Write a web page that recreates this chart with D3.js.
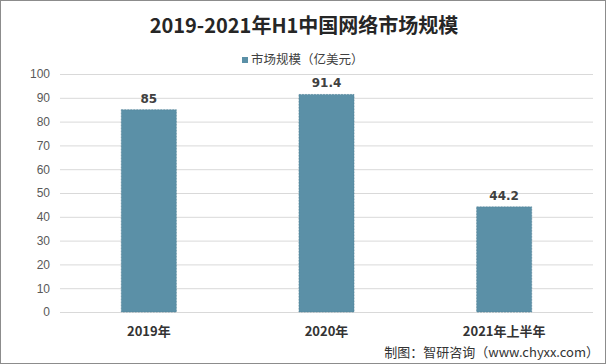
<!DOCTYPE html>
<html>
<head>
<meta charset="utf-8">
<script src="https://cdn.jsdelivr.net/npm/d3@7"></script>
<style>
  body { margin: 0; background: #fff; }
  svg { display: block; font-family: "Noto Sans CJK SC", "Noto Sans", sans-serif; }
</style>
</head>
<body>
<svg></svg>
<script>
const categories = ['2019年', '2020年', '2021年上半年'];
const values = [85, 91.4, 44.2];
const yTicks = [0, 10, 20, 30, 40, 50, 60, 70, 80, 90, 100];

let w = 606;
let h = 364;
let padL = 60, padR = 593, padT = 74, padB = 312;

let svg = d3.select('svg').attr('width', w).attr('height', h);

// outer frame
svg.append('rect')
   .attr('x', 0.5).attr('y', 0.5)
   .attr('width', w - 1).attr('height', h - 1)
   .attr('fill', '#fff').attr('stroke', '#8c8c8c');

let xSc = d3.scaleBand().domain(categories).range([padL, padR]).paddingInner(0.69).paddingOuter(0.345);
let ySc = d3.scaleLinear().domain([0, 100]).range([padB, padT]);

// gridlines
svg.append('g')
   .selectAll('line')
   .data(yTicks)
   .enter()
   .append('line')
   .attr('x1', padL).attr('x2', padR)
   .attr('y1', d => ySc(d) + 0.5).attr('y2', d => ySc(d) + 0.5)
   .attr('stroke', '#d9d9d9');

// y axis labels
let yAxis = d3.axisLeft(ySc).tickValues(yTicks).tickSize(0).tickPadding(0);
let yg = svg.append('g').attr('transform', 'translate(50, 0)').call(yAxis);
yg.select('.domain').remove();
yg.selectAll('text')
  .attr('fill', '#595959')
  .style('font-size', '12px')
  .style('font-family', '"Liberation Sans", Arial, sans-serif');

// bars
svg.selectAll('rect.bar')
   .data(values)
   .enter()
   .append('rect')
   .attr('class', 'bar')
   .attr('x', (d, i) => xSc(categories[i]))
   .attr('y', d => ySc(d))
   .attr('width', xSc.bandwidth())
   .attr('height', d => ySc(0) - ySc(d))
   .attr('fill', '#5b90a7')
   .attr('stroke', '#4f7f95')
   .attr('stroke-width', 0.6)
   .attr('stroke-dasharray', '2,1');

// value labels
svg.selectAll('text.val')
   .data(values)
   .enter()
   .append('text')
   .attr('class', 'val')
   .attr('x', (d, i) => xSc(categories[i]) + xSc.bandwidth() / 2)
   .attr('y', d => ySc(d) - 7)
   .attr('text-anchor', 'middle')
   .attr('fill', '#404040')
   .style('font-size', '12px')
   .style('font-weight', 'bold')
   .style('font-family', '"DejaVu Sans", sans-serif')
   .text(d => d);

// x axis
let xAxis = d3.axisBottom(xSc).tickSize(0).tickPadding(0);
let xg = svg.append('g').attr('transform', 'translate(0, ' + padB + ')').call(xAxis);
xg.select('.domain').remove();
xg.selectAll('text')
  .attr('y', 24)
  .attr('dy', 0)
  .attr('fill', '#333')
  .style('font-size', '13px')
  .style('font-weight', 'bold')
  .style('font-family', '"Noto Sans CJK SC", sans-serif');

// title
svg.append('text')
   .attr('x', 304).attr('y', 33)
   .attr('text-anchor', 'middle')
   .attr('fill', '#262626')
   .style('font-size', '20px')
   .style('font-weight', 'bold')
   .text('2019-2021年H1中国网络市场规模');

// legend
svg.append('rect')
   .attr('x', 242).attr('y', 57).attr('width', 6).attr('height', 6)
   .attr('fill', '#5b90a7');
svg.append('text')
   .attr('x', 251).attr('y', 64)
   .attr('fill', '#404040')
   .style('font-size', '12.5px')
   .text('市场规模（亿美元）');

// source
svg.append('text')
   .attr('x', 599).attr('y', 357)
   .attr('text-anchor', 'end')
   .attr('fill', '#333')
   .style('font-size', '13px')
   .text('制图：智研咨询（www.chyxx.com）');
</script>
</body>
</html>
